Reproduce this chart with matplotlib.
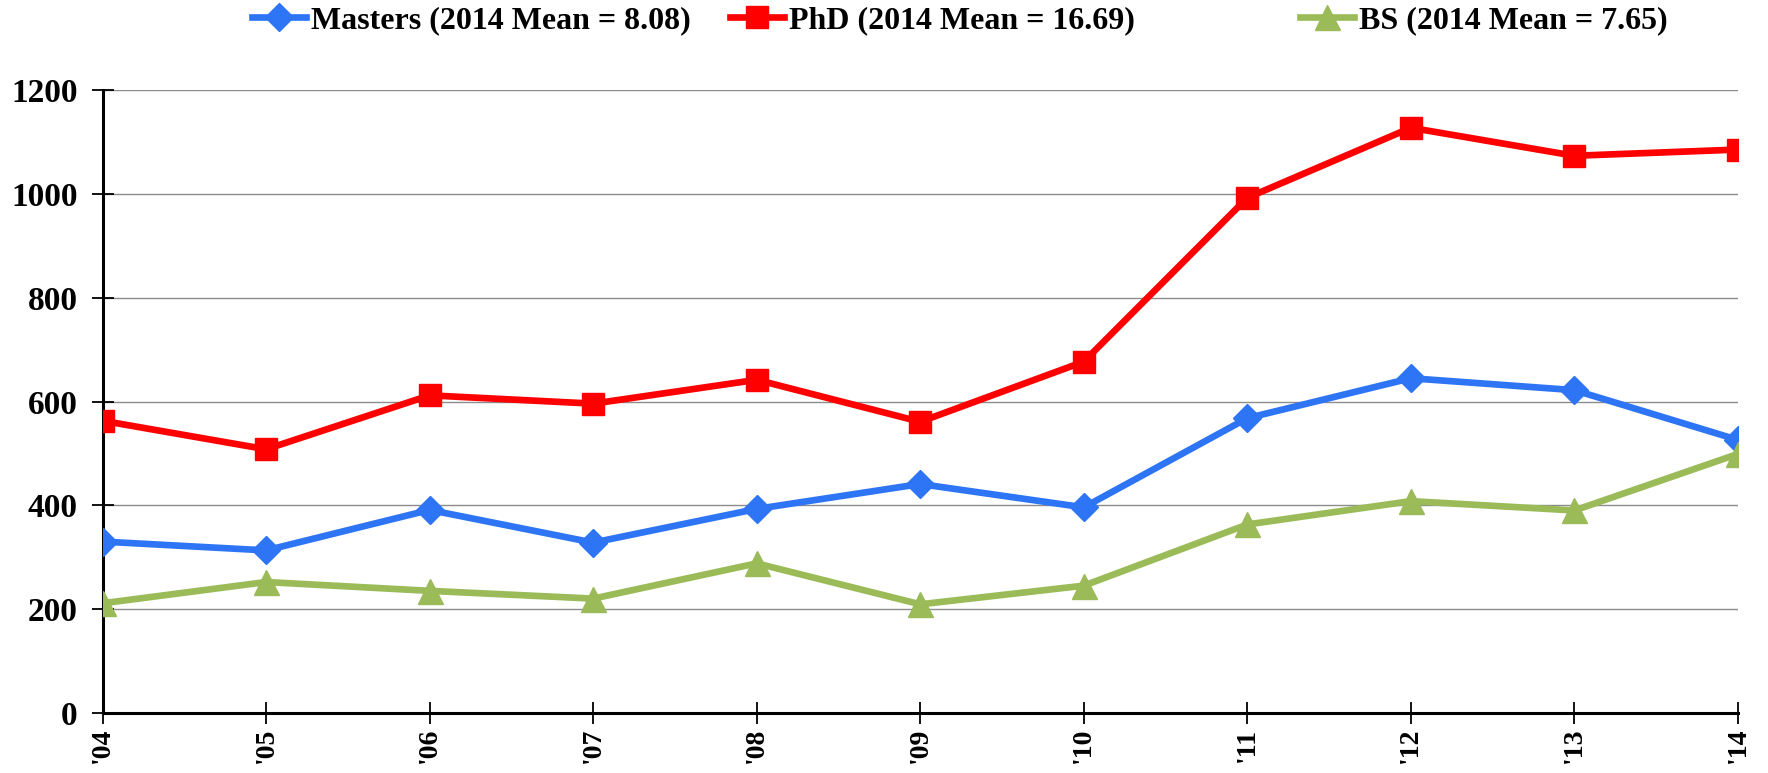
import matplotlib
matplotlib.use("Agg")
import matplotlib.pyplot as plt

years = ["'04", "'05", "'06", "'07", "'08", "'09", "'10", "'11", "'12", "'13", "'14"]
masters = [330, 313, 391, 328, 393, 441, 396, 568, 645, 622, 526]
phd = [563, 508, 612, 596, 642, 561, 677, 993, 1128, 1074, 1086]
bs = [211, 252, 235, 220, 288, 209, 245, 363, 408, 390, 499]
labels = ["Masters (2014 Mean = 8.08)", "PhD (2014 Mean = 16.69)", "BS (2014 Mean = 7.65)"]
yticks = [0, 200, 400, 600, 800, 1000, 1200]

plt.rcParams['font.family'] = ['Liberation Serif', 'DejaVu Serif']
plt.rcParams['font.weight'] = 'bold'

W, H = 1768, 773
fig = plt.figure(figsize=(W / 100, H / 100), dpi=100)
ax = fig.add_axes([0.058, 0.078, 0.925, 0.805])

x = list(range(len(years)))
l1, = ax.plot(x, masters, color='#2E75F6', lw=4.8, marker='D', ms=14, label=labels[0], zorder=3)
l2, = ax.plot(x, phd, color='#FF0000', lw=4.8, marker='s', ms=16.5, label=labels[1], zorder=3)
l3, = ax.plot(x, bs, color='#9BBB59', lw=4.8, marker='^', ms=18, label=labels[2], zorder=3)

ax.set_xlim(0, 10)
ax.set_ylim(0, 1200)
ax.set_yticks(yticks)
ax.set_yticklabels([str(v) for v in yticks], fontsize=24, fontweight='bold')
ax.set_xticks(x)
ax.set_xticklabels(years, fontsize=20, fontweight='bold', rotation=90)
ax.grid(axis='y', color='#8c8c8c', lw=1.0, zorder=0)
ax.set_axisbelow(True)
for s in ['top', 'right']:
    ax.spines[s].set_visible(False)
for s in ['left', 'bottom']:
    ax.spines[s].set_linewidth(2.2)
    ax.spines[s].set_color('black')
ax.tick_params(axis='both', direction='inout', length=16, width=1.3, colors='black')
ax.tick_params(axis='y', pad=10)
ax.tick_params(axis='x', pad=3)

legend_x = [252, 730, 1300]
for line, lx in zip([l1, l2, l3], legend_x):
    lg = fig.legend(handles=[line], loc='center left', bbox_to_anchor=(lx / W, 0.974),
                    frameon=False, borderpad=0, borderaxespad=0,
                    prop={'family': 'Liberation Serif', 'weight': 'bold', 'size': 23},
                    handlelength=1.7, handletextpad=0.15)

fig.savefig('out.png', dpi=100)
